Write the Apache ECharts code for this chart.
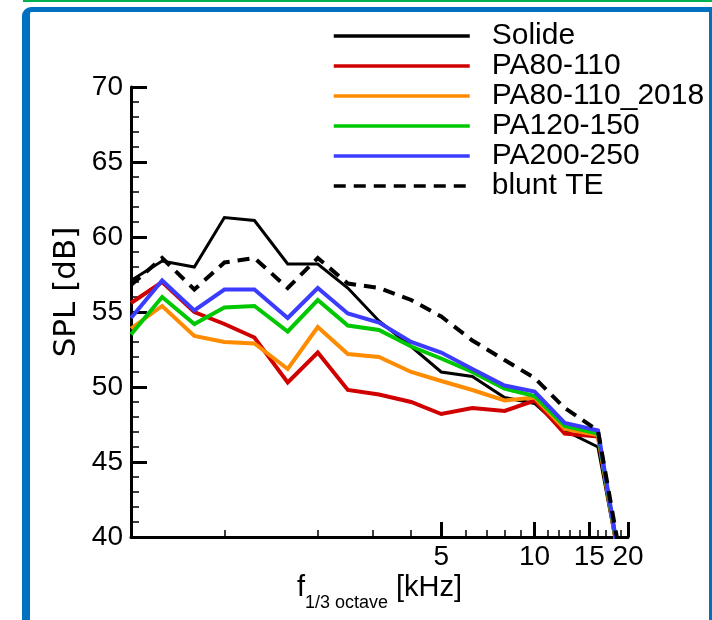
<!DOCTYPE html>
<html><head><meta charset="utf-8">
<script src="https://cdn.jsdelivr.net/npm/echarts@6/dist/echarts.min.js"></script>
<style>
html,body{margin:0;padding:0;background:#fff;width:712px;height:620px;overflow:hidden;}
#green{position:absolute;left:23px;top:0;width:689px;height:2px;background:#00b050;}
#frame{position:absolute;left:22px;top:7px;width:690px;height:640px;box-sizing:border-box;border-left:8px solid #0070c0;border-top:5px solid #0070c0;border-right:3px solid #0070c0;border-top-left-radius:9px;}
#chart{position:absolute;left:0;top:0;width:712px;height:620px;}
</style></head><body>
<div id="green"></div><div id="frame"></div><div id="chart"></div>
<script>
const frequencies = [0.5, 0.63, 0.8, 1, 1.25, 1.6, 2, 2.5, 3.15, 4, 5, 6.3, 8, 10, 12.5, 16, 20];
const solide     = [57.1, 58.4, 58.0, 61.3, 61.1, 58.2, 58.2, 56.6, 54.4, 52.7, 51.0, 50.7, 49.3, 48.9, 47.1, 46.0, 35.3];
const pa80_110   = [55.6, 57.0, 55.0, 54.2, 53.3, 50.3, 52.3, 49.8, 49.5, 49.0, 48.2, 48.6, 48.4, 49.1, 46.9, 46.7, 35.0];
const pa80_2018  = [53.9, 55.4, 53.4, 53.0, 52.9, 51.2, 54.0, 52.2, 52.0, 51.0, 50.4, 49.8, 49.1, 49.3, 47.2, 46.8, 35.0];
const pa120_150  = [53.5, 56.0, 54.2, 55.3, 55.4, 53.7, 55.8, 54.1, 53.8, 52.7, 51.9, 51.0, 49.9, 49.4, 47.4, 46.9, 35.0];
const pa200_250  = [54.6, 57.1, 55.1, 56.5, 56.5, 54.6, 56.6, 54.9, 54.3, 53.0, 52.3, 51.2, 50.1, 49.7, 47.6, 47.1, 35.0];
const bluntTE    = [56.8, 58.6, 56.5, 58.3, 58.6, 56.6, 58.6, 56.9, 56.6, 55.8, 54.7, 53.1, 51.8, 50.6, 48.6, 47.1, 35.8];
const seriesNames = ['Solide', 'PA80-110', 'PA80-110_2018', 'PA120-150', 'PA200-250', 'blunt TE'];
const xMajorTicks = [5, 10, 15, 20];
const xMinorTicks = [1, 2, 3, 4, 6, 7, 8, 9, 11, 12, 13, 14, 16, 17, 18, 19];
const yTicks = [40, 45, 50, 55, 60, 65, 70];

const FONT = 'Liberation Sans';
const FONT_Y = 'DejaVu Sans';
const pairs = arr => frequencies.map((f, i) => [f, arr[i]]);
const seriesData = [solide, pa80_110, pa80_2018, pa120_150, pa200_250, bluntTE];
const colors = ['#000000', '#d00000', '#ff8c00', '#00c800', '#3c3cff', '#000000'];
const widths = [3, 4, 4, 4, 4, 4];

const chart = echarts.init(document.getElementById('chart'));
chart.setOption({
  animation: false,
  backgroundColor: 'transparent',
  grid: { left: 131, top: 87, width: 497, height: 450, containLabel: false },
  legend: {
    orient: 'vertical', left: 332, top: 21, padding: 0,
    itemWidth: 136, itemHeight: 14, itemGap: 0,
    data: seriesNames,
    lineStyle: { width: 3.5 },
    itemStyle: { opacity: 0, color: 'rgba(0,0,0,0)', borderWidth: 0 },
    textStyle: { fontSize: 30, fontFamily: FONT, color: '#000', lineHeight: 30, padding: [0, 0, 0, 17] }
  },
  xAxis: [{
    type: 'log', logBase: 10, min: 0.5, max: 20, position: 'bottom',
    axisLine: { show: true, onZero: false, lineStyle: { color: '#000', width: 3 } },
    axisTick: { show: true, inside: true, length: 15, lineStyle: { color: '#000', width: 3 }, customValues: xMajorTicks },
    axisLabel: { show: true, customValues: xMajorTicks, fontSize: 28, fontFamily: FONT, color: '#000', margin: 6 },
    splitLine: { show: false },
    name: '{m|f}{s|1/3 octave}{m| [kHz]}',
    nameLocation: 'middle', nameGap: 36, nameMoveOverlap: false,
    nameTextStyle: {
      rich: {
        m: { fontSize: 29, fontFamily: FONT, color: '#000', lineHeight: 32, verticalAlign: 'top' },
        s: { fontSize: 18, fontFamily: FONT, color: '#000', lineHeight: 18, padding: [21, 0, 0, 0], verticalAlign: 'top' }
      }
    }
  }, {
    type: 'log', logBase: 10, min: 0.5, max: 20, position: 'bottom',
    axisLine: { show: false },
    axisTick: { show: true, inside: true, length: 7, lineStyle: { color: '#000', width: 1.5 }, customValues: xMinorTicks },
    axisLabel: { show: false },
    splitLine: { show: false }
  }],
  yAxis: {
    type: 'value', min: 40, max: 70, interval: 5,
    axisLine: { show: true, onZero: false, lineStyle: { color: '#000', width: 3 } },
    axisTick: { show: true, inside: true, length: 16, lineStyle: { color: '#000', width: 3 } },
    minorTick: { show: true, splitNumber: 5, length: 8, lineStyle: { color: '#000', width: 1.5 } },
    axisLabel: { fontSize: 28, fontFamily: FONT, color: '#000', margin: 8, customValues: yTicks },
    splitLine: { show: false },
    name: 'SPL [dB]', nameLocation: 'middle', nameGap: 49, nameRotate: 90, nameMoveOverlap: false,
    nameTextStyle: { fontSize: 31, fontFamily: FONT_Y, color: '#000', padding: [0, 0, 0, 40] }
  },
  series: seriesNames.map((name, i) => ({
    name, type: 'line', xAxisIndex: 0, yAxisIndex: 0,
    data: pairs(seriesData[i]),
    symbol: 'none', clip: true, silent: true,
    color: colors[i],
    lineStyle: { color: colors[i], width: widths[i], type: i === 5 ? [12, 8] : 'solid', cap: 'butt', join: 'miter' }
  }))
});
</script>
</body></html>
